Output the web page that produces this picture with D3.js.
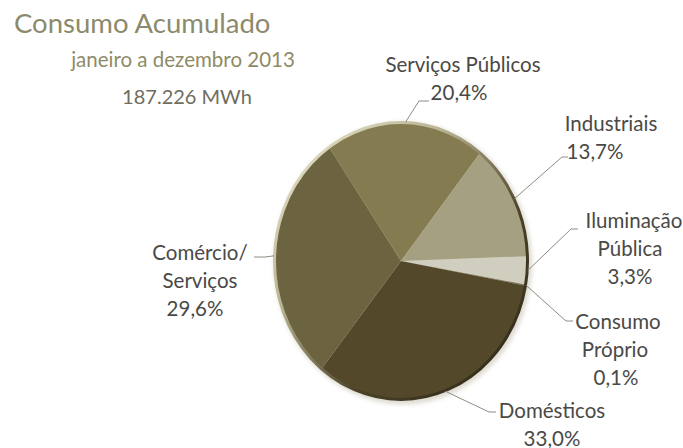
<!DOCTYPE html>
<html>
<head>
<meta charset="utf-8">
<script src="https://cdn.jsdelivr.net/npm/d3@7"></script>
<style>
  html, body { margin: 0; padding: 0; background: #ffffff; }
  svg { display: block; }
  text { font-family: Lato, "Open Sans", sans-serif; }
</style>
</head>
<body>
<svg id="chart" width="683" height="448"></svg>
<script>
// Consumption by class, Jan–Dec 2013 (share of total, %)
const categories = ["Iluminação Pública", "Consumo Próprio", "Domésticos", "Comércio/ Serviços", "Serviços Públicos", "Industriais"];
const shares = [3.3, 0.1, 33.0, 29.6, 20.4, 13.7];
const labelLines = [["Iluminação", "Pública"], ["Consumo", "Próprio"], ["Domésticos"], ["Comércio/", "Serviços"], ["Serviços Públicos"], ["Industriais"]];
const sliceColors = ["#d0cebe", "#7a7050", "#54482a", "#6c6340", "#857b50", "#a6a082"];

const title = "Consumo Acumulado";
const subtitle = "janeiro a dezembro 2013";
const total = "187.226 MWh";

// Label placement: centre x of each text line, first baseline, elbow and end of leader
const labelLayout = [
  { xs: [634, 630, 630], y: 228, elbow: [571, 229], end: [578, 229] },
  { xs: [618, 615, 616], y: 329, elbow: [566, 321], end: [573, 321] },
  { xs: [552, 552], y: 418, elbow: [489, 412], end: [496, 412] },
  { xs: [200, 200, 195], y: 260, elbow: [265, 257], end: [254, 257] },
  { xs: [463, 459], y: 72, elbow: [419, 101], end: [429, 101] },
  { xs: [611, 595], y: 131, elbow: [562, 157], end: [568, 157] }
];

const svg = d3.select("#chart");

const cx = 401, cy = 261, rx = 127, ry = 139;
const sy = ry / rx;

const fmtPct = v => d3.format(".1f")(v).replace(".", ",") + "%";

// Titles
svg.append("text").attr("x", 14).attr("y", 33)
  .attr("font-size", 27.5).attr("fill", "#8c8a6c").text(title);
svg.append("text").attr("x", 183).attr("y", 67).attr("text-anchor", "middle")
  .attr("font-size", 20.5).attr("fill", "#8e8b66").text(subtitle);
svg.append("text").attr("x", 187).attr("y", 104).attr("text-anchor", "middle")
  .attr("font-size", 20).attr("fill", "#6e6d5e").text(total);

// Pie
const a0 = 88 * Math.PI / 180;
const pie = d3.pie().sort(null).value(d => d).startAngle(a0).endAngle(a0 + 2 * Math.PI);
const arcs = pie(shares);
const arc = d3.arc().innerRadius(0).outerRadius(rx);

const defs = svg.append("defs");
const rim = defs.append("linearGradient").attr("id", "rim")
  .attr("x1", "0%").attr("y1", "0%").attr("x2", "100%").attr("y2", "100%");
rim.append("stop").attr("offset", "0%").attr("stop-color", "#f1eed8");
rim.append("stop").attr("offset", "35%").attr("stop-color", "#b7b190");
rim.append("stop").attr("offset", "65%").attr("stop-color", "#4a4128");
rim.append("stop").attr("offset", "100%").attr("stop-color", "#2a2414");

const shadow = defs.append("filter").attr("id", "soft").attr("x", "-10%").attr("y", "-10%")
  .attr("width", "120%").attr("height", "120%");
shadow.append("feGaussianBlur").attr("stdDeviation", 2);

const g = svg.append("g").attr("transform", `translate(${cx},${cy}) scale(1,${sy})`);

g.append("circle").attr("r", rx + 2).attr("cx", 2).attr("cy", 2)
  .attr("fill", "#bcb7a4").attr("opacity", 0.5).attr("filter", "url(#soft)");

g.selectAll("path.slice").data(arcs).join("path")
  .attr("class", "slice")
  .attr("d", arc)
  .attr("fill", (d, i) => sliceColors[i]);

g.append("circle").attr("r", rx - 0.5).attr("fill", "none")
  .attr("stroke", "url(#rim)").attr("stroke-width", 3)
  .attr("vector-effect", "non-scaling-stroke");

// Leaders and labels
const rimPoint = d => {
  const a = (d.startAngle + d.endAngle) / 2;
  return [cx + rx * Math.sin(a), cy - ry * Math.cos(a)];
};

const labels = svg.append("g");
arcs.forEach((d, i) => {
  const L = labelLayout[i];
  const p = rimPoint(d);
  labels.append("polyline")
    .attr("points", [p, L.elbow, L.end].map(q => q.join(",")).join(" "))
    .attr("fill", "none").attr("stroke", "#8d8c84").attr("stroke-width", 1);
  const lines = labelLines[i].concat([fmtPct(shares[i])]);
  lines.forEach((t, k) => {
    labels.append("text")
      .attr("x", L.xs[k]).attr("y", L.y + k * 28)
      .attr("text-anchor", "middle")
      .attr("font-size", 20.5).attr("fill", "#4a4946")
      .text(t);
  });
});
</script>
</body>
</html>
